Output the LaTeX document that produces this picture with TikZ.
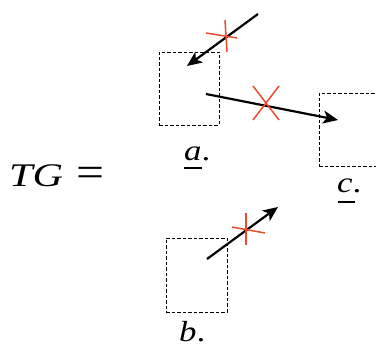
\documentclass[tikz,border=0pt]{standalone}
\usepackage{fontspec}
\usepackage{graphicx}
\setmainfont{Liberation Serif}
\usetikzlibrary{arrows.meta}
\definecolor{xred}{RGB}{235,75,45}
\tikzset{
  box/.style={draw, dash pattern=on 3.5pt off 2pt, line width=0.8pt, inner sep=0pt},
  arr/.style={line width=2.2pt, -{Stealth[length=15pt,width=13pt,inset=4pt]}},
  xmark/.style={draw=xred, line width=1.5pt},
  lbl/.style={inner sep=0pt, font=\fontsize{29}{34}\selectfont},
  uline/.style={line width=1.3pt}
}
\newcommand{\wide}[1]{\scalebox{1.2}[1]{#1}}
\begin{document}
\begin{tikzpicture}[x=1pt,y=-1pt]
\clip (0,0) rectangle (376,352);
\fill[white] (0,0) rectangle (376,352);
% boxes
\node[box, minimum width=60pt, minimum height=73pt] (a) at (189,88.5) {};
\node[box, minimum width=60pt, minimum height=73pt] (c) at (349,129.5) {};
\node[box, minimum width=61pt, minimum height=74pt] (b) at (196.5,275) {};
% label TG =
\node[lbl, anchor=base west, font=\fontsize{33}{38}\selectfont] (tg) at (9,187) {\scalebox{1.28}[1]{\textit{TG}}};
\node[lbl, anchor=base west, font=\fontsize{42}{48}\selectfont] (eq) at (76,187) {\scalebox{1.18}[1]{=}};
% labels
\node[lbl, anchor=base west] (la) at (184,161) {\wide{\textit{a}.}};
\draw[uline] (184,168) -- (202,168);
\node[lbl, anchor=base west] (lc) at (337,193) {\wide{\textit{c}.}};
\draw[uline] (338,202) -- (355,202);
\node[lbl, anchor=base west] (lb) at (179,342) {\wide{\textit{b}.}};
% arrow endpoints
\coordinate (p1) at (258,14);
\coordinate (a1) at (187,66);
\coordinate (a2) at (206,94);
\coordinate (c1) at (338,120);
\coordinate (b1) at (207,259);
\coordinate (p3) at (278,207);
\draw[arr] (p1) -- (a1);
\draw[arr] (a2) -- (c1);
\draw[arr] (b1) -- (p3);
% red crosses
\draw[xmark] (206,33) -- (237,38);
\draw[xmark] (225,20) -- (227,52);
\draw[xmark] (253,86) -- (279,120);
\draw[xmark] (279,86) -- (253,120);
\draw[xmark] (232,227) -- (265,233);
\draw[xmark] (246,213) -- (246,245);
\end{tikzpicture}
\end{document}
